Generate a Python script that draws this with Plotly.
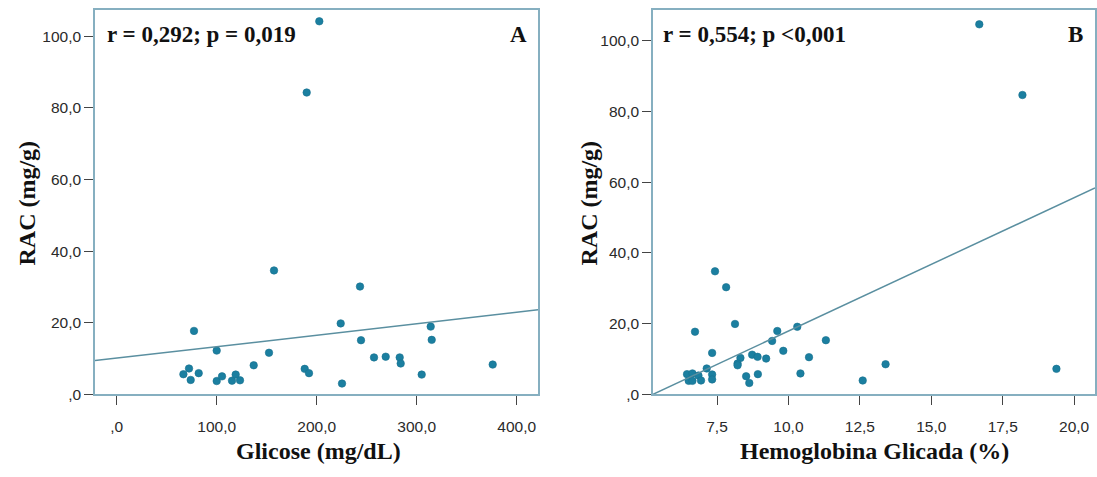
import numpy as np
import plotly.graph_objects as go

# Panel A: glucose (mg/dL) vs albumin/creatinine ratio (mg/g)
glicose = [202.6, 190.0, 157.3, 243.3, 77.3, 224.0, 314.0, 244.3, 315.0, 100.0,
           152.3, 257.3, 269.0, 283.0, 284.0, 376.0, 137.0, 72.3, 66.7, 82.0,
           74.0, 188.0, 192.3, 100.0, 105.3, 115.3, 119.0, 123.3, 225.3, 305.0]
rac_a = [104.2, 84.3, 34.6, 30.1, 17.7, 19.8, 18.9, 15.1, 15.2, 12.2,
         11.6, 10.3, 10.5, 10.3, 8.6, 8.3, 8.1, 7.2, 5.6, 5.9,
         4.0, 7.1, 5.9, 3.7, 5.0, 3.8, 5.5, 3.9, 3.0, 5.5]

# Panel B: glycated haemoglobin (%) vs albumin/creatinine ratio (mg/g)
hba1c = [16.68, 18.19, 7.43, 7.82, 8.13, 6.73, 9.61, 10.31, 9.43, 9.82,
         7.33, 8.32, 8.73, 8.92, 9.22, 8.22, 8.22, 7.14, 6.45, 6.64,
         6.85, 6.51, 6.64, 6.94, 7.33, 7.33, 8.52, 8.63, 8.93, 11.31,
         10.72, 10.42, 12.60, 13.40, 19.38]
rac_b = [104.7, 84.7, 34.8, 30.3, 19.9, 17.7, 17.9, 19.1, 15.1, 12.3,
         11.7, 10.3, 11.2, 10.6, 10.1, 8.7, 8.2, 7.3, 5.7, 5.9,
         5.3, 3.8, 3.8, 3.9, 5.6, 4.2, 5.1, 3.2, 5.7, 15.3,
         10.5, 5.9, 3.9, 8.5, 7.2]

# Linear fit lines (intercept, slope)
fit_a = (10.1, 0.0320)
fit_b = (-19.86, 3.775)

stats_a = "r = 0,292; p = 0,019"
stats_b = "r = 0,554; p <0,001"

x_ticks_a = [0, 100, 200, 300, 400]
x_labels_a = [",0", "100,0", "200,0", "300,0", "400,0"]
x_ticks_b = [7.5, 10.0, 12.5, 15.0, 17.5, 20.0]
x_labels_b = ["7,5", "10,0", "12,5", "15,0", "17,5", "20,0"]
y_ticks = [0, 20, 40, 60, 80, 100]
y_labels = [",0", "20,0", "40,0", "60,0", "80,0", "100,0"]

x_range_a = [-21.7, 421.3]
x_range_b = [5.26, 20.73]
y_range_a = [0, 107.4]
y_range_b = [0, 108.8]

DOT = "#1b7fa0"
FIT = "#5a8fa0"
FRAME = "#86afc0"
SERIF = "Liberation Serif, Times New Roman, serif"
SANS = "Liberation Sans, Arial, sans-serif"

fig = go.Figure()

fig.add_trace(go.Scatter(x=glicose, y=rac_a, mode="markers",
                         marker=dict(size=7.5, color=DOT, line=dict(width=0.6, color="#17708e")),
                         xaxis="x", yaxis="y", showlegend=False))
xa = np.array(x_range_a)
fig.add_trace(go.Scatter(x=xa, y=fit_a[0] + fit_a[1] * xa, mode="lines",
                         line=dict(color=FIT, width=1.5),
                         xaxis="x", yaxis="y", showlegend=False))

fig.add_trace(go.Scatter(x=hba1c, y=rac_b, mode="markers",
                         marker=dict(size=7.5, color=DOT, line=dict(width=0.6, color="#17708e")),
                         xaxis="x2", yaxis="y2", showlegend=False))
xb = np.array(x_range_b)
fig.add_trace(go.Scatter(x=xb, y=fit_b[0] + fit_b[1] * xb, mode="lines",
                         line=dict(color=FIT, width=1.5),
                         xaxis="x2", yaxis="y2", showlegend=False))

W, H = 1097, 477


def px_x(p):
    return p / W


def px_y(p):
    return 1 - p / H


axis_common = dict(showgrid=False, zeroline=False, showline=True, mirror=True,
                   linecolor=FRAME, linewidth=1.5, ticks="outside", ticklen=9,
                   tickwidth=1.2, tickcolor="#444444",
                   tickfont=dict(family=SANS, size=15.5, color="#2a2a2a"))

fig.update_layout(
    width=W, height=H,
    margin=dict(l=0, r=0, t=0, b=0),
    paper_bgcolor="white", plot_bgcolor="white",
    xaxis=dict(domain=[px_x(95), px_x(538)], range=x_range_a, anchor="y",
               tickvals=x_ticks_a, ticktext=x_labels_a, ticklabelstandoff=8, **axis_common),
    yaxis=dict(domain=[px_y(401), px_y(10)], range=y_range_a, anchor="x",
               tickvals=y_ticks, ticktext=y_labels, ticklabelstandoff=0, **axis_common),
    xaxis2=dict(domain=[px_x(653), px_x(1095)], range=x_range_b, anchor="y2",
                tickvals=x_ticks_b, ticktext=x_labels_b, ticklabelstandoff=8, **axis_common),
    yaxis2=dict(domain=[px_y(401), px_y(10)], range=y_range_b, anchor="x2",
                tickvals=y_ticks, ticktext=y_labels, ticklabelstandoff=0, **axis_common),
)

stat_font = dict(family=SERIF, size=23, color="#111111")
title_font = dict(family=SERIF, size=24, color="#111111")

annotations = [
    dict(text="<b>%s</b>" % stats_a, x=px_x(105), y=px_y(35), xanchor="left", yanchor="middle", font=stat_font),
    dict(text="<b>A</b>", x=px_x(529), y=px_y(35), xanchor="right", yanchor="middle", font=stat_font),
    dict(text="<b>%s</b>" % stats_b, x=px_x(661), y=px_y(35), xanchor="left", yanchor="middle", font=stat_font),
    dict(text="<b>B</b>", x=px_x(1085), y=px_y(35), xanchor="right", yanchor="middle", font=stat_font),
    dict(text="<b>Glicose (mg/dL)</b>", x=px_x(318), y=px_y(459), xanchor="center", yanchor="middle", font=title_font),
    dict(text="<b>Hemoglobina Glicada (%)</b>", x=px_x(874), y=px_y(459), xanchor="center", yanchor="middle", font=title_font),
    dict(text="<b>RAC (mg/g)</b>", x=px_x(27), y=px_y(207), xanchor="center", yanchor="middle", textangle=-90, font=title_font),
    dict(text="<b>RAC (mg/g)</b>", x=px_x(589), y=px_y(207), xanchor="center", yanchor="middle", textangle=-90, font=title_font),
]
for a in annotations:
    a.update(xref="paper", yref="paper", showarrow=False)
fig.update_layout(annotations=annotations)

fig.write_html("out.html")
